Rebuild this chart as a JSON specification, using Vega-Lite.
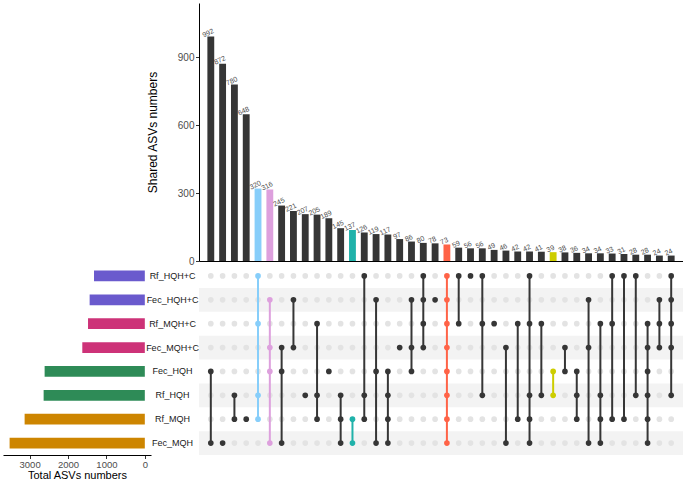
{
  "$schema": "https://vega.github.io/schema/vega-lite/v6.json",
  "padding": {"left": 3, "top": 3, "right": 0, "bottom": 0},
  "autosize": {"type": "pad"},
  "bounds": "flush",
  "columns": 2,
  "spacing": {"row": 3, "column": 48},
  "resolve": {"scale": {"color": "independent"}},
  "datasets": {
    "sets": [
      {"set": "Rf_HQH+C", "total": 1323},
      {"set": "Fec_HQH+C", "total": 1437},
      {"set": "Rf_MQH+C", "total": 1479},
      {"set": "Fec_MQH+C", "total": 1628},
      {"set": "Fec_HQH", "total": 2609},
      {"set": "Rf_HQH", "total": 2635},
      {"set": "Rf_MQH", "total": 3130},
      {"set": "Fec_MQH", "total": 3521}
    ],
    "cols": [
      {"id": 1, "n": 992, "query": "none", "Rf_HQH+C": 0, "Fec_HQH+C": 0, "Rf_MQH+C": 0, "Fec_MQH+C": 0, "Fec_HQH": 1, "Rf_HQH": 0, "Rf_MQH": 0, "Fec_MQH": 1},
      {"id": 2, "n": 872, "query": "none", "Rf_HQH+C": 0, "Fec_HQH+C": 0, "Rf_MQH+C": 0, "Fec_MQH+C": 0, "Fec_HQH": 0, "Rf_HQH": 0, "Rf_MQH": 0, "Fec_MQH": 1},
      {"id": 3, "n": 780, "query": "none", "Rf_HQH+C": 0, "Fec_HQH+C": 0, "Rf_MQH+C": 0, "Fec_MQH+C": 0, "Fec_HQH": 0, "Rf_HQH": 1, "Rf_MQH": 1, "Fec_MQH": 0},
      {"id": 4, "n": 648, "query": "none", "Rf_HQH+C": 0, "Fec_HQH+C": 0, "Rf_MQH+C": 0, "Fec_MQH+C": 0, "Fec_HQH": 0, "Rf_HQH": 0, "Rf_MQH": 1, "Fec_MQH": 0},
      {"id": 5, "n": 320, "query": "A", "Rf_HQH+C": 1, "Fec_HQH+C": 0, "Rf_MQH+C": 1, "Fec_MQH+C": 0, "Fec_HQH": 0, "Rf_HQH": 1, "Rf_MQH": 1, "Fec_MQH": 0},
      {"id": 6, "n": 316, "query": "B", "Rf_HQH+C": 0, "Fec_HQH+C": 1, "Rf_MQH+C": 0, "Fec_MQH+C": 1, "Fec_HQH": 1, "Rf_HQH": 0, "Rf_MQH": 0, "Fec_MQH": 1},
      {"id": 7, "n": 245, "query": "none", "Rf_HQH+C": 0, "Fec_HQH+C": 0, "Rf_MQH+C": 0, "Fec_MQH+C": 1, "Fec_HQH": 1, "Rf_HQH": 0, "Rf_MQH": 0, "Fec_MQH": 1},
      {"id": 8, "n": 221, "query": "none", "Rf_HQH+C": 0, "Fec_HQH+C": 1, "Rf_MQH+C": 0, "Fec_MQH+C": 1, "Fec_HQH": 0, "Rf_HQH": 0, "Rf_MQH": 0, "Fec_MQH": 0},
      {"id": 9, "n": 207, "query": "none", "Rf_HQH+C": 0, "Fec_HQH+C": 0, "Rf_MQH+C": 0, "Fec_MQH+C": 0, "Fec_HQH": 0, "Rf_HQH": 1, "Rf_MQH": 0, "Fec_MQH": 0},
      {"id": 10, "n": 205, "query": "none", "Rf_HQH+C": 0, "Fec_HQH+C": 0, "Rf_MQH+C": 1, "Fec_MQH+C": 0, "Fec_HQH": 0, "Rf_HQH": 1, "Rf_MQH": 1, "Fec_MQH": 0},
      {"id": 11, "n": 189, "query": "none", "Rf_HQH+C": 0, "Fec_HQH+C": 0, "Rf_MQH+C": 0, "Fec_MQH+C": 0, "Fec_HQH": 1, "Rf_HQH": 0, "Rf_MQH": 0, "Fec_MQH": 0},
      {"id": 12, "n": 145, "query": "none", "Rf_HQH+C": 0, "Fec_HQH+C": 0, "Rf_MQH+C": 0, "Fec_MQH+C": 0, "Fec_HQH": 0, "Rf_HQH": 1, "Rf_MQH": 1, "Fec_MQH": 1},
      {"id": 13, "n": 137, "query": "C", "Rf_HQH+C": 0, "Fec_HQH+C": 0, "Rf_MQH+C": 0, "Fec_MQH+C": 0, "Fec_HQH": 0, "Rf_HQH": 0, "Rf_MQH": 1, "Fec_MQH": 1},
      {"id": 14, "n": 126, "query": "none", "Rf_HQH+C": 1, "Fec_HQH+C": 0, "Rf_MQH+C": 0, "Fec_MQH+C": 0, "Fec_HQH": 0, "Rf_HQH": 1, "Rf_MQH": 1, "Fec_MQH": 0},
      {"id": 15, "n": 119, "query": "none", "Rf_HQH+C": 0, "Fec_HQH+C": 1, "Rf_MQH+C": 0, "Fec_MQH+C": 0, "Fec_HQH": 1, "Rf_HQH": 0, "Rf_MQH": 0, "Fec_MQH": 1},
      {"id": 16, "n": 117, "query": "none", "Rf_HQH+C": 0, "Fec_HQH+C": 0, "Rf_MQH+C": 0, "Fec_MQH+C": 0, "Fec_HQH": 1, "Rf_HQH": 1, "Rf_MQH": 1, "Fec_MQH": 1},
      {"id": 17, "n": 97, "query": "none", "Rf_HQH+C": 0, "Fec_HQH+C": 0, "Rf_MQH+C": 0, "Fec_MQH+C": 1, "Fec_HQH": 0, "Rf_HQH": 0, "Rf_MQH": 0, "Fec_MQH": 0},
      {"id": 18, "n": 86, "query": "none", "Rf_HQH+C": 0, "Fec_HQH+C": 1, "Rf_MQH+C": 0, "Fec_MQH+C": 1, "Fec_HQH": 1, "Rf_HQH": 0, "Rf_MQH": 0, "Fec_MQH": 0},
      {"id": 19, "n": 80, "query": "none", "Rf_HQH+C": 1, "Fec_HQH+C": 1, "Rf_MQH+C": 1, "Fec_MQH+C": 1, "Fec_HQH": 0, "Rf_HQH": 0, "Rf_MQH": 0, "Fec_MQH": 0},
      {"id": 20, "n": 78, "query": "none", "Rf_HQH+C": 0, "Fec_HQH+C": 1, "Rf_MQH+C": 0, "Fec_MQH+C": 0, "Fec_HQH": 0, "Rf_HQH": 0, "Rf_MQH": 0, "Fec_MQH": 0},
      {"id": 21, "n": 73, "query": "D", "Rf_HQH+C": 1, "Fec_HQH+C": 1, "Rf_MQH+C": 1, "Fec_MQH+C": 1, "Fec_HQH": 1, "Rf_HQH": 1, "Rf_MQH": 1, "Fec_MQH": 1},
      {"id": 22, "n": 59, "query": "none", "Rf_HQH+C": 1, "Fec_HQH+C": 0, "Rf_MQH+C": 1, "Fec_MQH+C": 0, "Fec_HQH": 0, "Rf_HQH": 0, "Rf_MQH": 0, "Fec_MQH": 0},
      {"id": 23, "n": 56, "query": "none", "Rf_HQH+C": 1, "Fec_HQH+C": 0, "Rf_MQH+C": 0, "Fec_MQH+C": 0, "Fec_HQH": 0, "Rf_HQH": 0, "Rf_MQH": 0, "Fec_MQH": 0},
      {"id": 24, "n": 56, "query": "none", "Rf_HQH+C": 1, "Fec_HQH+C": 0, "Rf_MQH+C": 1, "Fec_MQH+C": 0, "Fec_HQH": 0, "Rf_HQH": 1, "Rf_MQH": 0, "Fec_MQH": 0},
      {"id": 25, "n": 49, "query": "none", "Rf_HQH+C": 0, "Fec_HQH+C": 0, "Rf_MQH+C": 1, "Fec_MQH+C": 0, "Fec_HQH": 0, "Rf_HQH": 0, "Rf_MQH": 0, "Fec_MQH": 0},
      {"id": 26, "n": 46, "query": "none", "Rf_HQH+C": 0, "Fec_HQH+C": 0, "Rf_MQH+C": 0, "Fec_MQH+C": 1, "Fec_HQH": 0, "Rf_HQH": 0, "Rf_MQH": 0, "Fec_MQH": 1},
      {"id": 27, "n": 42, "query": "none", "Rf_HQH+C": 0, "Fec_HQH+C": 0, "Rf_MQH+C": 1, "Fec_MQH+C": 0, "Fec_HQH": 0, "Rf_HQH": 0, "Rf_MQH": 1, "Fec_MQH": 0},
      {"id": 28, "n": 42, "query": "none", "Rf_HQH+C": 1, "Fec_HQH+C": 0, "Rf_MQH+C": 1, "Fec_MQH+C": 0, "Fec_HQH": 0, "Rf_HQH": 1, "Rf_MQH": 1, "Fec_MQH": 1},
      {"id": 29, "n": 41, "query": "none", "Rf_HQH+C": 0, "Fec_HQH+C": 0, "Rf_MQH+C": 1, "Fec_MQH+C": 0, "Fec_HQH": 0, "Rf_HQH": 1, "Rf_MQH": 0, "Fec_MQH": 0},
      {"id": 30, "n": 39, "query": "E", "Rf_HQH+C": 0, "Fec_HQH+C": 0, "Rf_MQH+C": 0, "Fec_MQH+C": 0, "Fec_HQH": 1, "Rf_HQH": 1, "Rf_MQH": 0, "Fec_MQH": 0},
      {"id": 31, "n": 38, "query": "none", "Rf_HQH+C": 0, "Fec_HQH+C": 0, "Rf_MQH+C": 0, "Fec_MQH+C": 1, "Fec_HQH": 1, "Rf_HQH": 0, "Rf_MQH": 0, "Fec_MQH": 0},
      {"id": 32, "n": 36, "query": "none", "Rf_HQH+C": 0, "Fec_HQH+C": 0, "Rf_MQH+C": 0, "Fec_MQH+C": 0, "Fec_HQH": 1, "Rf_HQH": 1, "Rf_MQH": 1, "Fec_MQH": 0},
      {"id": 33, "n": 34, "query": "none", "Rf_HQH+C": 0, "Fec_HQH+C": 1, "Rf_MQH+C": 0, "Fec_MQH+C": 1, "Fec_HQH": 0, "Rf_HQH": 0, "Rf_MQH": 0, "Fec_MQH": 1},
      {"id": 34, "n": 34, "query": "none", "Rf_HQH+C": 0, "Fec_HQH+C": 0, "Rf_MQH+C": 1, "Fec_MQH+C": 0, "Fec_HQH": 0, "Rf_HQH": 1, "Rf_MQH": 1, "Fec_MQH": 1},
      {"id": 35, "n": 33, "query": "none", "Rf_HQH+C": 1, "Fec_HQH+C": 0, "Rf_MQH+C": 1, "Fec_MQH+C": 0, "Fec_HQH": 0, "Rf_HQH": 0, "Rf_MQH": 1, "Fec_MQH": 0},
      {"id": 36, "n": 31, "query": "none", "Rf_HQH+C": 1, "Fec_HQH+C": 0, "Rf_MQH+C": 0, "Fec_MQH+C": 0, "Fec_HQH": 0, "Rf_HQH": 0, "Rf_MQH": 1, "Fec_MQH": 0},
      {"id": 37, "n": 28, "query": "none", "Rf_HQH+C": 1, "Fec_HQH+C": 0, "Rf_MQH+C": 0, "Fec_MQH+C": 0, "Fec_HQH": 0, "Rf_HQH": 1, "Rf_MQH": 0, "Fec_MQH": 0},
      {"id": 38, "n": 28, "query": "none", "Rf_HQH+C": 0, "Fec_HQH+C": 0, "Rf_MQH+C": 1, "Fec_MQH+C": 1, "Fec_HQH": 1, "Rf_HQH": 1, "Rf_MQH": 1, "Fec_MQH": 1},
      {"id": 39, "n": 24, "query": "none", "Rf_HQH+C": 0, "Fec_HQH+C": 1, "Rf_MQH+C": 1, "Fec_MQH+C": 1, "Fec_HQH": 0, "Rf_HQH": 0, "Rf_MQH": 0, "Fec_MQH": 0},
      {"id": 40, "n": 24, "query": "none", "Rf_HQH+C": 1, "Fec_HQH+C": 1, "Rf_MQH+C": 1, "Fec_MQH+C": 1, "Fec_HQH": 0, "Rf_HQH": 1, "Rf_MQH": 0, "Fec_MQH": 0}
    ]
  },
  "concat": [
    {
      "width": 148,
      "height": 258,
      "data": {"values": []},
      "mark": "point",
      "encoding": {}
    },
    {
      "width": 484,
      "height": 258,
      "data": {"name": "cols"},
      "layer": [
        {
          "mark": {"type": "bar"},
          "encoding": {
            "x": {"field": "id", "type": "ordinal", "scale": {"type": "band", "paddingInner": 0.42, "paddingOuter": 0.71}, "axis": {"labels": false, "ticks": false, "title": null, "domainColor": "#000000"}},
            "y": {"field": "n", "type": "quantitative", "scale": {"domain": [0, 1140], "nice": false}, "axis": {"values": [0, 300, 600, 900], "title": "Shared ASVs numbers", "titlePadding": 18}},
            "color": {"field": "query", "type": "nominal", "scale": {"domain": ["none", "A", "B", "C", "D", "E"], "range": ["#363636", "#87CEFA", "#DDA0DD", "#20B2AA", "#FF6347", "#CDCD00"]}, "legend": null}
          }
        },
        {
          "mark": {"type": "text", "angle": 335, "fontSize": 7, "color": "#4D4D4D", "align": "center", "baseline": "bottom", "dy": -1, "dx": -1},
          "encoding": {
            "x": {"field": "id", "type": "ordinal"},
            "y": {"field": "n", "type": "quantitative"},
            "text": {"field": "n", "type": "quantitative"}
          }
        }
      ]
    },
    {
      "width": 148,
      "height": 191,
      "data": {"name": "sets"},
      "mark": {"type": "bar"},
      "encoding": {
        "y": {"field": "set", "type": "nominal", "sort": ["Rf_HQH+C", "Fec_HQH+C", "Rf_MQH+C", "Fec_MQH+C", "Fec_HQH", "Rf_HQH", "Rf_MQH", "Fec_MQH"], "scale": {"paddingInner": 0.55, "paddingOuter": 0.275}, "axis": null},
        "x": {"field": "total", "type": "quantitative", "scale": {"domain": [-161, 3693], "reverse": true, "nice": false, "zero": false}, "axis": {"values": [0, 1000, 2000, 3000], "format": "d", "title": "Total ASVs numbers", "titlePadding": 0.5, "titleFontSize": 11, "labelFontSize": 9.5, "labelPadding": 0.5}},
        "color": {"field": "set", "type": "nominal", "scale": {"domain": ["Rf_HQH+C", "Fec_HQH+C", "Rf_MQH+C", "Fec_MQH+C", "Fec_HQH", "Rf_HQH", "Rf_MQH", "Fec_MQH"], "range": ["#6A5ACD", "#6A5ACD", "#CD3278", "#CD3278", "#2E8B57", "#2E8B57", "#CD8500", "#CD8500"]}, "legend": null}
      }
    },
    {
      "width": 484,
      "height": 191,
      "layer": [
        {
          "data": {"name": "sets"},
          "transform": [{"filter": {"field": "set", "oneOf": ["Fec_HQH+C", "Fec_MQH+C", "Rf_HQH", "Fec_MQH"]}}],
          "mark": {"type": "rect", "color": "#F3F3F3"},
          "encoding": {
            "y": {"field": "set", "type": "nominal", "sort": ["Rf_HQH+C", "Fec_HQH+C", "Rf_MQH+C", "Fec_MQH+C", "Fec_HQH", "Rf_HQH", "Rf_MQH", "Fec_MQH"], "scale": {"type": "band", "domain": ["Rf_HQH+C", "Fec_HQH+C", "Rf_MQH+C", "Fec_MQH+C", "Fec_HQH", "Rf_HQH", "Rf_MQH", "Fec_MQH"], "paddingInner": 0, "paddingOuter": 0}, "axis": {"title": null, "ticks": false, "tickSize": 0, "domain": false, "labelAlign": "center", "labelPadding": 27, "labelFontSize": 9, "labelColor": "#1A1A1A"}}
          }
        },
        {
          "data": {"name": "cols"},
          "transform": [
            {"fold": ["Rf_HQH+C", "Fec_HQH+C", "Rf_MQH+C", "Fec_MQH+C", "Fec_HQH", "Rf_HQH", "Rf_MQH", "Fec_MQH"], "as": ["set", "member"]},
            {"filter": "datum.member == 0"}
          ],
          "mark": {"type": "point", "filled": true, "size": 32, "color": "#E3E3E3", "opacity": 1},
          "encoding": {
            "x": {"field": "id", "type": "ordinal", "scale": {"type": "point", "padding": 1}, "axis": null},
            "y": {"field": "set", "type": "nominal"}
          }
        },
        {
          "data": {"name": "cols"},
          "transform": [
            {"fold": ["Rf_HQH+C", "Fec_HQH+C", "Rf_MQH+C", "Fec_MQH+C", "Fec_HQH", "Rf_HQH", "Rf_MQH", "Fec_MQH"], "as": ["set", "member"]},
            {"filter": "datum.member == 1"}
          ],
          "mark": {"type": "line", "strokeWidth": 2},
          "encoding": {
            "x": {"field": "id", "type": "ordinal"},
            "y": {"field": "set", "type": "nominal"},
            "detail": {"field": "id", "type": "ordinal"},
            "color": {"field": "query", "type": "nominal", "scale": {"domain": ["none", "A", "B", "C", "D", "E"], "range": ["#363636", "#87CEFA", "#DDA0DD", "#20B2AA", "#FF6347", "#CDCD00"]}, "legend": null}
          }
        },
        {
          "data": {"name": "cols"},
          "transform": [
            {"fold": ["Rf_HQH+C", "Fec_HQH+C", "Rf_MQH+C", "Fec_MQH+C", "Fec_HQH", "Rf_HQH", "Rf_MQH", "Fec_MQH"], "as": ["set", "member"]},
            {"filter": "datum.member == 1"}
          ],
          "mark": {"type": "point", "filled": true, "size": 32, "opacity": 1},
          "encoding": {
            "x": {"field": "id", "type": "ordinal"},
            "y": {"field": "set", "type": "nominal"},
            "color": {"field": "query", "type": "nominal", "legend": null}
          }
        }
      ]
    }
  ],
  "config": {
    "view": {"stroke": null},
    "font": "Liberation Sans",
    "axis": {
      "grid": false,
      "labelFont": "Liberation Sans",
      "titleFont": "Liberation Sans",
      "labelColor": "#4D4D4D",
      "labelFontSize": 10,
      "titleFontSize": 12,
      "titleFontWeight": "normal",
      "titleColor": "#000000",
      "domainColor": "#000000",
      "tickColor": "#333333",
      "tickSize": 3.5,
      "labelPadding": 1.5
    }
  }
}
